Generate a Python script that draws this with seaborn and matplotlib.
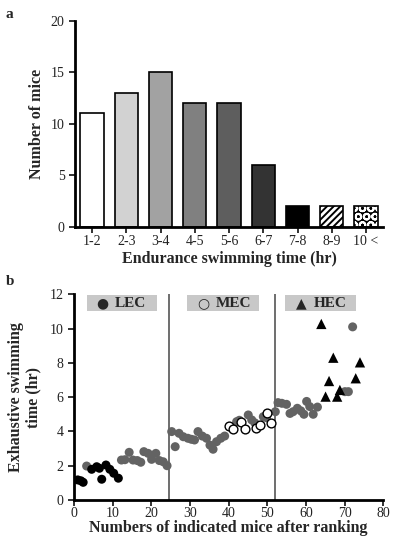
import matplotlib
matplotlib.use("Agg")
import matplotlib.pyplot as plt
from matplotlib.patches import Rectangle
import seaborn as sns
import pandas as pd

# ---------------- data ----------------
bins = ["1-2", "2-3", "3-4", "4-5", "5-6", "6-7", "7-8", "8-9", "10 <"]
counts = [11, 13, 15, 12, 12, 6, 2, 2, 2]

gray_x = [3.3, 12.3, 13.2, 14.3, 15.3, 16.4, 17.3, 18.1, 19.2, 20.1, 21.2, 22.1, 23.1, 24.1,
          25.3, 26.2, 27.2, 28.3, 29.5, 30.4, 31.2, 32.1, 33.2, 34.3, 35.2, 36.0, 36.9, 38.0, 39.0,
          42.1, 42.8, 45.1, 46.0, 46.8, 49.0, 49.8, 52.1,
          52.8, 53.8, 55.0, 55.9, 56.7, 57.8, 58.7, 59.5, 60.2, 61.0, 61.9, 63.0,
          70.1, 71.0, 72.1]
gray_y = [1.98, 2.33, 2.35, 2.78, 2.33, 2.3, 2.2, 2.82, 2.72, 2.37, 2.72, 2.3, 2.23, 2.0,
          3.99, 3.11, 3.89, 3.69, 3.6, 3.54, 3.5, 3.99, 3.73, 3.6, 3.2, 2.96, 3.4, 3.6, 3.73,
          4.57, 4.65, 4.96, 4.67, 4.5, 4.86, 4.8, 5.15,
          5.68, 5.64, 5.58, 5.05, 5.15, 5.35, 5.2, 5.0, 5.75, 5.45, 5.0, 5.42,
          6.32, 6.32, 10.1]

lec_x = [1.0, 1.8, 2.4, 4.6, 5.9, 6.6, 7.2, 8.3, 9.3, 10.3, 11.5]
lec_y = [1.17, 1.12, 1.03, 1.79, 1.94, 1.85, 1.21, 2.04, 1.79, 1.56, 1.27]

mec_x = [40.2, 41.2, 43.1, 44.2, 47.1, 48.1, 50.0, 51.1]
mec_y = [4.32, 4.12, 4.57, 4.12, 4.18, 4.38, 5.06, 4.51]

hec_x = [64.0, 65.1, 66.0, 67.1, 68.1, 68.8, 72.9, 74.0]
hec_y = [10.27, 6.03, 6.94, 8.3, 6.03, 6.42, 7.1, 8.03]

group_bounds = [24.65, 52.0]
group_glyphs = ["\u25CF", "\u25CB", "\u25B2"]
group_names = ["LEC", "MEC", "HEC"]

# ---------------- style ----------------
sns.set_style("ticks")
plt.rcParams["font.family"] = ["Liberation Serif", "DejaVu Sans"]
plt.rcParams["hatch.linewidth"] = 1.4

fig = plt.figure(figsize=(3.93, 5.39), dpi=100)

# ---------------- panel a ----------------
axa = fig.add_axes([0.1908, 0.5794, 0.784, 0.3822])
dfa = pd.DataFrame({"bin": bins, "count": counts})
bar_colors = ["#ffffff", "#d2d2d2", "#a2a2a2", "#808080", "#5e5e5e", "#333333",
              "#000000", "#ffffff", "#000000"]
sns.barplot(data=dfa, x="bin", y="count", hue="bin", palette=bar_colors,
            legend=False, width=0.68, ax=axa, linewidth=0, saturation=1)
hatches = [""] * 7 + ["/////", "OO"]
hatch_edges = ["black"] * 7 + ["black", "white"]
for p, h, ec in zip(axa.patches, hatches, hatch_edges):
    if h:
        p.set_hatch(h)
        p.set_edgecolor(ec)
        p.set_linewidth(0)
sns.barplot(data=dfa, x="bin", y="count", fill=False, color="black",
            width=0.68, ax=axa, linewidth=1.2, saturation=1)
for p in axa.patches[len(bins):]:
    p.set_edgecolor("black")

axa.set_ylim(0, 20)
axa.set_xlim(-0.5, 8.5)
axa.set_yticks([0, 5, 10, 15, 20])
axa.set_ylabel("Number of mice", fontsize=11.5, fontweight="bold", labelpad=4)
axa.set_xlabel("Endurance swimming time (hr)", fontsize=11.5, fontweight="bold", labelpad=2)
for s in ["top", "right"]:
    axa.spines[s].set_visible(False)
for s in ["left", "bottom"]:
    axa.spines[s].set_linewidth(2)
    axa.spines[s].set_color("black")
axa.tick_params(axis="both", direction="out", length=4, width=1.3, labelsize=10, colors="#222222")
axa.tick_params(axis="x", pad=2)

# ---------------- panel b ----------------
axb = fig.add_axes([0.188, 0.0724, 0.787, 0.3816])
sns.scatterplot(x=gray_x, y=gray_y, color="#636363", s=42, edgecolor="none", ax=axb, zorder=3)
sns.scatterplot(x=lec_x, y=lec_y, color="black", s=42, edgecolor="none", ax=axb, zorder=4)
sns.scatterplot(x=mec_x, y=mec_y, marker="o", s=40, facecolor="white",
                edgecolor="black", linewidth=1.0, ax=axb, zorder=4)
sns.scatterplot(x=hec_x, y=hec_y, marker="^", color="black", s=55, edgecolor="none",
                ax=axb, zorder=4)
for xb in group_bounds:
    axb.axvline(xb, color="#555555", lw=1.2, zorder=2)

boxes = [(3.3, 21.6), (29.3, 47.9), (54.7, 73.1)]
for (x0, x1), g, lab in zip(boxes, group_glyphs, group_names):
    axb.add_patch(Rectangle((x0, 11.0), x1 - x0, 0.96, facecolor="#c8c8c8",
                            edgecolor="none", zorder=1))
    cx = (x0 + x1) / 2
    axb.text(cx - 5.0, 11.46, g, ha="center", va="center", fontsize=10,
             family="DejaVu Sans", zorder=5)
    axb.text(cx - 1.9, 11.46, lab, ha="left", va="center", fontsize=11,
             fontweight="bold", zorder=5)

axb.set_xlim(0, 80)
axb.set_ylim(0, 12)
axb.set_xticks(range(0, 81, 10))
axb.set_yticks(range(0, 13, 2))
axb.set_xlabel("Numbers of indicated mice after ranking", fontsize=11.5,
               fontweight="bold", labelpad=0)
axb.set_ylabel("Exhaustive swimming\ntime (hr)", fontsize=11.5, fontweight="bold",
               labelpad=6, linespacing=1.1)
for s in ["top", "right"]:
    axb.spines[s].set_visible(False)
for s in ["left", "bottom"]:
    axb.spines[s].set_linewidth(2)
    axb.spines[s].set_color("black")
axb.tick_params(axis="both", direction="out", length=4, width=1.3, labelsize=10, colors="#222222")
axb.tick_params(axis="x", pad=1)

fig.text(0.015, 0.985, "a", fontsize=11, fontweight="bold", va="top")
fig.text(0.015, 0.49, "b", fontsize=11, fontweight="bold", va="top")

fig.savefig("out.png", dpi=100)
